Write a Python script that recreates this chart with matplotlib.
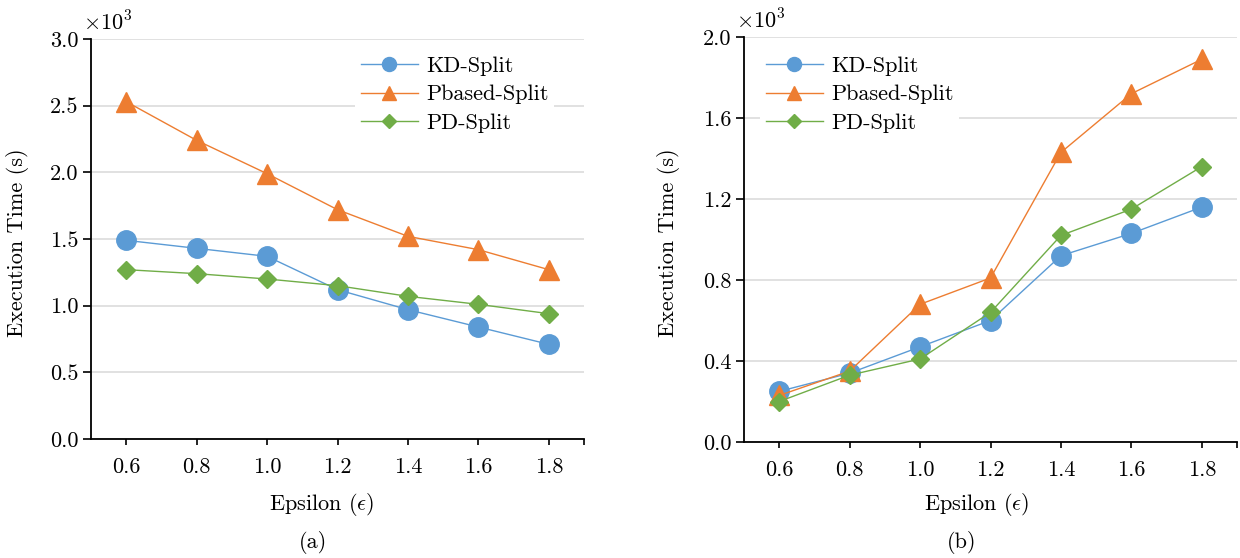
import matplotlib

matplotlib.use("Agg")
import matplotlib.pyplot as plt

plt.rcParams["font.family"] = "serif"
plt.rcParams["font.serif"] = ["cmr10", "DejaVu Serif"]
plt.rcParams["mathtext.fontset"] = "cm"
plt.rcParams["axes.formatter.use_mathtext"] = True

EPSILON = [0.6, 0.8, 1.0, 1.2, 1.4, 1.6, 1.8]
EPS_LABELS = ["0.6", "0.8", "1.0", "1.2", "1.4", "1.6", "1.8"]

# values in units of 10^3 seconds
KD_A = [1.49, 1.43, 1.37, 1.12, 0.97, 0.84, 0.71]
PBASED_A = [2.53, 2.24, 1.99, 1.72, 1.52, 1.42, 1.27]
PD_A = [1.27, 1.24, 1.20, 1.15, 1.07, 1.01, 0.94]

KD_B = [0.25, 0.34, 0.47, 0.60, 0.92, 1.03, 1.16]
PBASED_B = [0.23, 0.35, 0.68, 0.81, 1.43, 1.72, 1.89]
PD_B = [0.20, 0.33, 0.41, 0.64, 1.02, 1.15, 1.36]

YTICKS_A = [0.0, 0.5, 1.0, 1.5, 2.0, 2.5, 3.0]
YTICKS_B = [0.0, 0.4, 0.8, 1.2, 1.6, 2.0]

COLORS = {"kd": "#5B9BD5", "pbased": "#ED7D31", "pd": "#70AD47"}
FS = 16
W, H = 1240, 558


def draw_panel(fig, ax, kd, pbased, pd_, yticks, legend_xy, xlabel_x, caption, caption_x):
    ax.plot(EPSILON, kd, color=COLORS["kd"], lw=1.0, marker="o", ms=14,
            label="KD-Split", zorder=3)
    ax.plot(EPSILON, pbased, color=COLORS["pbased"], lw=1.0, marker="^", ms=14,
            label="Pbased-Split", zorder=3)
    ax.plot(EPSILON, pd_, color=COLORS["pd"], lw=1.0, marker="D", ms=9.5,
            label="PD-Split", zorder=3)

    ax.set_xlim(0.5, 1.9)
    ax.set_ylim(yticks[0], yticks[-1])
    ax.set_xticks(EPSILON + [1.9])
    ax.set_xticklabels(EPS_LABELS + [""], fontsize=FS)
    ax.set_yticks(yticks)
    ax.set_yticklabels([f"{v:.1f}" for v in yticks], fontsize=FS)
    ax.tick_params(axis="x", length=4.5, width=1.2, pad=9, direction="out")
    ax.tick_params(axis="y", length=5.5, width=1.2, pad=3.5, direction="out")
    for side in ["top", "right"]:
        ax.spines[side].set_visible(False)
    for side in ["left", "bottom"]:
        ax.spines[side].set_linewidth(1.3)
    ax.grid(axis="y", color="#D9D9D9", lw=1.1)
    ax.set_axisbelow(True)

    leg = ax.legend(loc="upper left", bbox_to_anchor=legend_xy,
                    bbox_transform=fig.transFigure, fontsize=FS,
                    frameon=True, framealpha=1, edgecolor="white", fancybox=False,
                    handlelength=2.6, handletextpad=0.35, labelspacing=0.39,
                    borderpad=0.25, borderaxespad=0, markerscale=0.72)
    leg.get_frame().set_linewidth(0)

    ax.text(-0.017, 1.012, r"$\times 10^3$", transform=ax.transAxes, fontsize=FS,
            ha="left", va="bottom")
    fig.text(xlabel_x / W, 1 - 504 / H, r"Epsilon ($\epsilon$)", fontsize=FS,
             ha="center", va="center")
    fig.text(caption_x / W, 1 - 543 / H, caption, fontsize=FS,
             ha="center", va="center")


fig = plt.figure(figsize=(12.4, 5.58), dpi=100)
ax_a = fig.add_axes([91 / W, 1 - 439 / H, 493 / W, 400 / H])
ax_b = fig.add_axes([744 / W, 1 - 442 / H, 493 / W, 405 / H])

draw_panel(fig, ax_a, KD_A, PBASED_A, PD_A, YTICKS_A,
           (355 / W, 1 - 51 / H), 322, "(a)", 313)
draw_panel(fig, ax_b, KD_B, PBASED_B, PD_B, YTICKS_B,
           (760 / W, 1 - 51 / H), 977, "(b)", 962)

fig.text(18 / W, 1 - 243 / H, "Execution Time (s)", rotation=90, fontsize=FS,
         ha="center", va="center")
fig.text(668 / W, 1 - 243 / H, "Execution Time (s)", rotation=90, fontsize=FS,
         ha="center", va="center")

fig.savefig("out.png", dpi=100)
